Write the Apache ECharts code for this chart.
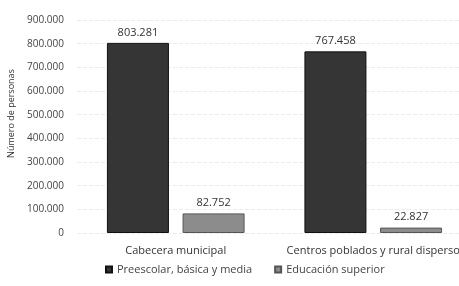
<!DOCTYPE html>
<html>
<head>
<meta charset="utf-8">
<script src="https://cdn.jsdelivr.net/npm/echarts@6/dist/echarts.min.js"></script>
<style>
	html, body { margin: 0; padding: 0; background: #fff; }
	#chart { width: 459px; height: 286px; }
</style>
</head>
<body>
<div id="chart"></div>
<script>
// datos
const categorias = ["Cabecera municipal", "Centros poblados y rural disperso"];
const basica = [803281, 767458];
const superior = [82752, 22827];
const nombres = ["Preescolar, básica y media", "Educación superior"];

// miles con punto
function fmt(v) {
	return String(v).replace(/\B(?=(\d{3})+(?!\d))/g, ".");
}

let myChart = echarts.init(document.getElementById('chart'));
const option = {
	animation: false,
	textStyle: { fontFamily: "Open Sans", color: "#333" },
	color: ["#333333", "#8a8a8a"],
	grid: {
		left: 77,
		top: 20,
		width: 395,
		bottom: 53,
		outerBoundsMode: "none"
	},
	legend: {
		bottom: 6,
		left: 100,
		itemWidth: 6,
		itemHeight: 6,
		itemGap: 22,
		icon: "rect",
		textStyle: { fontSize: 11, color: "#444" },
		data: nombres
	},
	xAxis: {
		type: "category",
		data: categorias,
		axisTick: { show: false },
		axisLine: { show: false },
		axisLabel: { fontSize: 11, color: "#333", margin: 12, interval: 0, hideOverlap: false }
	},
	yAxis: {
		type: "value",
		min: 0,
		max: 900000,
		interval: 100000,
		name: "Número de personas",
		nameLocation: "middle",
		nameGap: 59,
		nameTextStyle: { fontSize: 9, color: "#333", padding: [0, 0, 0, 26] },
		axisLabel: { fontSize: 10, color: "#444", formatter: fmt, margin: 13 },
		splitLine: { lineStyle: { color: "#ececec", type: "dashed" } }
	},
	series: [
		{
			name: nombres[0],
			type: "bar",
			data: basica,
			barWidth: 62,
			barGap: "22%",
			itemStyle: { color: "#353535", borderColor: "#111", borderWidth: 1 },
			label: { show: true, position: "top", fontSize: 11, color: "#333", formatter: p => fmt(p.value) }
		},
		{
			name: nombres[1],
			type: "bar",
			data: superior,
			barWidth: 62,
			itemStyle: { color: "#8c8c8c", borderColor: "#555", borderWidth: 1 },
			label: { show: true, position: "top", fontSize: 11, color: "#333", formatter: p => fmt(p.value) }
		}
	]
};
myChart.setOption(option);
</script>
</body>
</html>
